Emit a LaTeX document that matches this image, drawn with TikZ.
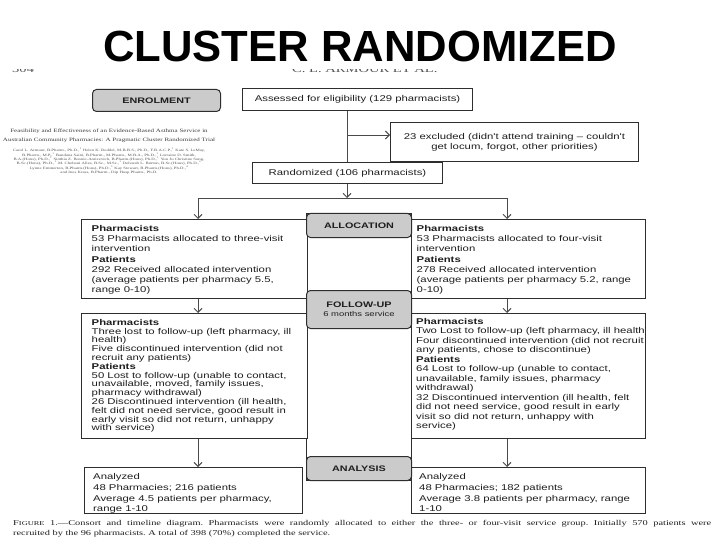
\documentclass[tikz,border=0pt]{standalone}
\usepackage{fontspec}
\setmainfont{Liberation Serif}
\newfontfamily\dg[FakeStretch=1.35]{Liberation Sans}
\newfontfamily\srs[FakeStretch=1.4]{Liberation Serif}
\newfontfamily\ttlfont{Liberation Sans}
\usetikzlibrary{arrows.meta,calc}
\definecolor{tabgray}{HTML}{CBCBCB}
\definecolor{edge}{HTML}{2E2E2E}
\definecolor{ink}{HTML}{1E1E1E}
\definecolor{arrcol}{HTML}{4A4A4A}
\definecolor{papergray}{HTML}{555555}
\begin{document}
\begin{tikzpicture}[x=1pt,y=-1pt,
  frame/.style={draw=edge, line width=1pt, fill=white, inner sep=0pt, anchor=north west},
  cbox/.style={frame, font=\dg\fontsize{8.4}{10}\selectfont, text=ink, align=center},
  tab/.style={draw=edge, line width=1pt, fill=tabgray, rounded corners=4pt, inner sep=0pt,
    anchor=north west, font=\dg\bfseries\fontsize{8}{8}\selectfont, text=ink, align=center},
  body/.style={font=\dg\fontsize{8.4}{#1}\selectfont, text=ink, align=left, inner sep=0pt, anchor=north west},
  hdr/.style={font=\srs\fontsize{10.4}{12}\selectfont, text=papergray, inner sep=0pt},
  conn/.style={draw=arrcol, line width=0.9pt},
  arr/.style={-{Straight Barb[length=4pt,width=8pt,line width=0.9pt]}}
]
\useasboundingbox (0,0) rectangle (720,540);
\fill[white] (0,0) rectangle (720,540);

% running header of the page, mostly hidden by the slide title
\node[hdr, anchor=base west] (pgno) at (12,72.6) {304};
\node[hdr, anchor=base west] (runhd) at (292,72.6) {C. L. ARMOUR ET AL.};
\fill[white] (0,0) rectangle (720,68.6);
\node[font=\ttlfont\bfseries\fontsize{43.6}{50}\selectfont, anchor=base, inner sep=0pt] (title) at (360,61.3) {CLUSTER RANDOMIZED};

% paper title snippet
\node[font=\srs\fontsize{5}{8.3}\selectfont, text=papergray!70!black, align=center, anchor=north, inner sep=0pt] (ptitle) at (109,129)
  {Feasibility and Effectiveness of an Evidence-Based Asthma Service in\\
   Australian Community Pharmacies: A Pragmatic Cluster Randomized Trial};
\node[font=\srs\fontsize{3.4}{4.35}\selectfont, text=papergray, align=center, anchor=north, inner sep=0pt] (pauth) at (109,147.9)
  {Carol L. Armour, B.Pharm., Ph.D.,\textsuperscript{1} Helen K. Reddel, M.B.B.S., Ph.D., F.R.A.C.P.,\textsuperscript{1} Kate S. LeMay,\\
   B.Pharm., M.P.,\textsuperscript{1} Bandana Saini, B.Pharm., M.Pharm., M.B.A., Ph.D.,\textsuperscript{1} Lorraine D. Smith,\\
   B.A.(Hons), Ph.D.,\textsuperscript{1} Sinthia Z. Bosnic-Anticevich, B.Pharm.(Hons), Ph.D.,\textsuperscript{1} Yun Ju Christine Song,\\
   B.Sc.(Hons), Ph.D.,\textsuperscript{1} M. Chehani Alles, B.Sc., M.Sc.,\textsuperscript{1} Deborah L. Burton, B.Sc.(Hons), Ph.D.,\textsuperscript{2}\\
   Lynne Emmerton, B.Pharm.(Hons), Ph.D.,\textsuperscript{3} Kay Stewart, B.Pharm.(Hons), Ph.D.,\textsuperscript{4}\\
   and Ines Krass, B.Pharm., Dip Hosp Pharm., Ph.D.};

% enrolment stage
\node[tab, minimum width=128pt, minimum height=22pt] (enrol) at (92,89) {ENROLMENT};
\node[cbox, minimum width=230pt, minimum height=22pt] (assess) at (242,88) {Assessed for eligibility (129 pharmacists)};
\node[cbox, minimum width=248pt, minimum height=39pt] (excl) at (390,122)
  {23 excluded (didn't attend training – couldn't\\get locum, forgot, other priorities)};
\node[cbox, minimum width=190pt, minimum height=21pt] (rand) at (252,162) {Randomized (106 pharmacists)};

% central column
\node[frame, minimum width=105pt, minimum height=267pt] (col) at (306,213) {};

% allocation row
\node[frame, minimum width=226pt, minimum height=79pt] (L1) at (81,219) {};
\node[body=10.3] (L1t) at (91.5,224.9) {\textbf{Pharmacists}\\53 Pharmacists allocated to three-visit\\intervention\\\textbf{Patients}\\292 Received allocated intervention\\(average patients per pharmacy 5.5,\\range 0-10)};
\node[frame, minimum width=234pt, minimum height=79pt] (R1) at (411,219) {};
\node[body=10.3] (R1t) at (416.5,224.9) {\textbf{Pharmacists}\\53 Pharmacists allocated to four-visit\\intervention\\\textbf{Patients}\\278 Received allocated intervention\\(average patients per pharmacy 5.2, range\\0-10)};

% follow-up row
\node[frame, minimum width=226pt, minimum height=125pt] (L2) at (81,313) {};
\node[body=8.8] (L2t) at (91.5,319.1) {\textbf{Pharmacists}\\Three lost to follow-up (left pharmacy, ill\\health)\\Five discontinued intervention (did not\\recruit any patients)\\\textbf{Patients}\\50 Lost to follow-up (unable to contact,\\unavailable, moved, family issues,\\pharmacy withdrawal)\\26 Discontinued intervention (ill health,\\felt did not need service, good result in\\early visit so did not return, unhappy\\with service)};
\node[frame, minimum width=234pt, minimum height=125pt] (R2) at (411,313) {};
\begin{scope}
\clip (411,313) rectangle (645,438);
\node[body=9.5] (R2t) at (416,318.1) {\textbf{Pharmacists}\\Two Lost to follow-up (left pharmacy, ill health)\\Four discontinued intervention (did not recruit\\any patients, chose to discontinue)\\\textbf{Patients}\\64 Lost to follow-up (unable to contact,\\unavailable, family issues, pharmacy\\withdrawal)\\32 Discontinued intervention (ill health, felt\\did not need service, good result in early\\visit so did not return, unhappy with\\service)};
\end{scope}

% analysis row
\node[frame, minimum width=218pt, minimum height=46pt] (L3) at (84,467) {};
\node[body=10.7] (L3t) at (93,473.4) {Analyzed\\48 Pharmacies; 216 patients\\Average 4.5 patients per pharmacy,\\range 1-10};
\node[frame, minimum width=234pt, minimum height=46pt] (R3) at (411,467) {};
\node[body=10.7] (R3t) at (419,473.4) {Analyzed\\48 Pharmacies; 182 patients\\Average 3.8 patients per pharmacy, range\\1-10};

% stage tabs
\node[tab, minimum width=105pt, minimum height=24pt] (alloc) at (306,213) {ALLOCATION};
\node[tab, minimum width=105pt, minimum height=38pt] (follow) at (306,290) {FOLLOW-UP\\[1pt]{\mdseries\fontsize{7}{7}\selectfont 6 months service}};
\node[tab, minimum width=105pt, minimum height=24pt] (anal) at (306,456) {ANALYSIS};

% connectors
\coordinate (xL) at (198,0);
\coordinate (xR) at (507,0);
\coordinate (xM) at (347,0);
\coordinate (br) at (347,135);
\coordinate (split) at (347,198);
\draw[conn] (assess.south -| xM) -- (rand.north -| xM);
\draw[conn,arr] (br) -- (excl.west |- br);
\draw[conn,arr] (rand.south -| xM) -- (split);
\draw[conn,arr] (split) -| (L1.north -| xL);
\draw[conn,arr] (split) -| (R1.north -| xR);
\draw[conn,arr] (L1.south -| xL) -- (L2.north -| xL);
\draw[conn,arr] (R1.south -| xR) -- (R2.north -| xR);
\draw[conn,arr] (L2.south -| xL) -- (L3.north -| xL);
\draw[conn,arr] (R2.south -| xR) -- (R3.north -| xR);

% figure caption
\node[font=\srs\fontsize{7.4}{10}\selectfont\frenchspacing, text=ink, align=left, anchor=north west, inner sep=0pt] (capt) at (13,520.4)
  {\makebox[698pt][s]{F{\fontsize{6}{10}\selectfont IGURE} 1.—Consort and timeline diagram. Pharmacists were randomly allocated to either the three- or four-visit service group. Initially 570 patients were}\\
   recruited by the 96 pharmacists. A total of 398 (70\%) completed the service.};
\end{tikzpicture}
\end{document}
